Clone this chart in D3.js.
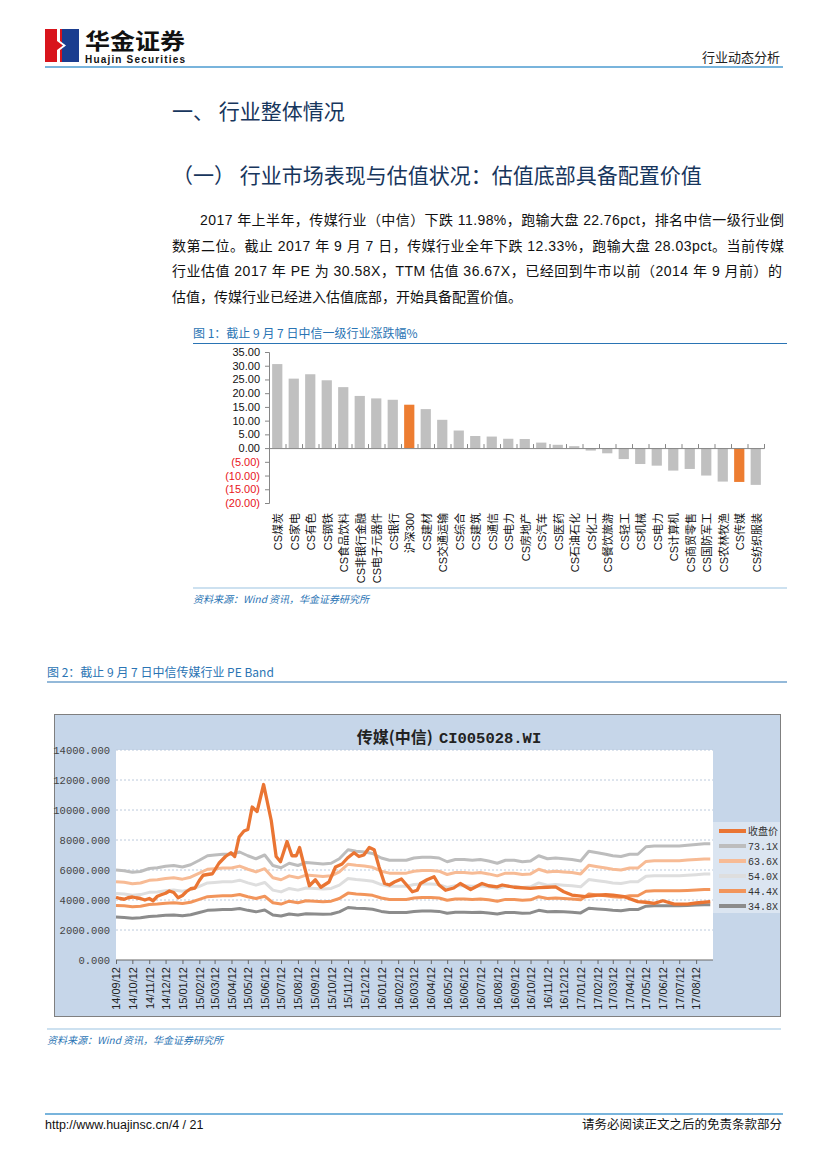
<!DOCTYPE html>
<html><head><meta charset="utf-8">
<script src="https://cdn.jsdelivr.net/npm/d3@7"></script>
<style>body{margin:0;background:#fff}svg{display:block}</style>
</head><body><svg id="page" width="827" height="1169"></svg>
<script>
// ---------------- DATA ----------------
const industries = ["CS煤炭","CS家电","CS有色","CS钢铁","CS食品饮料","CS非银行金融","CS电子元器件","CS银行","沪深300","CS建材","CS交通运输","CS综合","CS建筑","CS通信","CS电力","CS房地产","CS汽车","CS医药","CS石油石化","CS化工","CS餐饮旅游","CS轻工","CS机械","CS电力","CS计算机","CS商贸零售","CS国防军工","CS农林牧渔","CS传媒","CS纺织服装"];
const industryChanges = [30.6,25.3,26.9,24.7,22.2,19.0,18.1,17.6,15.8,14.2,10.3,6.4,4.4,4.2,3.4,3.3,2.0,1.2,0.7,-0.9,-1.9,-4.0,-5.8,-6.4,-8.2,-7.6,-10.0,-12.2,-12.33,-13.4];
const highlighted = [8, 28];
const chart1Ticks = [35,30,25,20,15,10,5,0,-5,-10,-15,-20];

const monthLabels = ["14/09/12","14/10/12","14/11/12","14/12/12","15/01/12","15/02/12","15/03/12","15/04/12","15/05/12","15/06/12","15/07/12","15/08/12","15/09/12","15/10/12","15/11/12","15/12/12","16/01/12","16/02/12","16/03/12","16/04/12","16/05/12","16/06/12","16/07/12","16/08/12","16/09/12","16/10/12","16/11/12","16/12/12","17/01/12","17/02/12","17/03/12","17/04/12","17/05/12","17/06/12","17/07/12","17/08/12"];
const chart2Ticks = [0,2000,4000,6000,8000,10000,12000,14000];

// PE band values, sampled every half month from 2014-09-12, last point 2017-09-07
const band731 = [6000,5950,5850,5900,6100,6150,6250,6300,6200,6350,6650,6950,7000,7050,7050,7200,6950,6750,7000,6300,6150,6450,6300,6500,6450,6400,6450,6750,7350,7250,7200,7100,6800,6650,6650,6650,6800,6850,6850,6800,6550,6700,6700,6650,6700,6600,6450,6650,6650,6550,6600,6950,6750,6800,6750,6700,6600,7250,7150,7050,6950,6900,7050,7050,7550,7600,7600,7600,7600,7650,7700,7750,7750];
const band636 = [5220,5180,5090,5130,5310,5350,5440,5480,5390,5520,5790,6050,6090,6130,6130,6260,6050,5870,6090,5480,5350,5610,5480,5660,5610,5570,5610,5870,6390,6310,6260,6180,5920,5790,5790,5790,5920,5960,5960,5920,5700,5830,5830,5790,5830,5740,5610,5790,5790,5700,5740,6050,5870,5920,5870,5830,5740,6310,6220,6130,6050,6000,6130,6130,6570,6610,6610,6610,6610,6660,6700,6740,6740];
const band540 = [4430,4400,4320,4360,4510,4540,4620,4660,4580,4690,4910,5140,5170,5210,5210,5320,5140,4990,5170,4660,4540,4770,4660,4800,4770,4730,4770,4990,5430,5360,5320,5250,5030,4910,4910,4910,5030,5060,5060,5030,4840,4950,4950,4910,4950,4880,4770,4910,4910,4840,4880,5140,4990,5030,4990,4950,4880,5360,5280,5210,5140,5100,5210,5210,5580,5620,5620,5620,5620,5650,5690,5730,5730];
const band444 = [3640,3610,3550,3580,3700,3730,3790,3820,3760,3850,4040,4220,4250,4280,4280,4370,4220,4100,4250,3820,3730,3920,3820,3950,3920,3880,3920,4100,4460,4400,4370,4310,4130,4040,4040,4040,4130,4160,4160,4130,3980,4070,4070,4040,4070,4010,3920,4040,4040,3980,4010,4220,4100,4130,4100,4070,4010,4400,4340,4280,4220,4190,4280,4280,4580,4610,4610,4610,4610,4640,4670,4700,4700];
const band348 = [2860,2830,2780,2810,2900,2930,2980,3000,2950,3020,3170,3310,3330,3360,3360,3430,3310,3210,3330,3000,2930,3070,3000,3090,3070,3050,3070,3210,3500,3450,3430,3380,3240,3170,3170,3170,3240,3260,3260,3240,3120,3190,3190,3170,3190,3140,3070,3170,3170,3120,3140,3310,3210,3240,3210,3190,3140,3450,3400,3360,3310,3280,3360,3360,3590,3620,3620,3620,3620,3640,3670,3690,3690];

const closePrice = [
["2014-09-12",4180],["2014-09-19",4100],["2014-09-27",4050],["2014-10-04",4150],
["2014-10-12",4200],["2014-10-19",4150],["2014-10-27",4100],["2014-11-04",4000],
["2014-11-12",4100],["2014-11-19",3950],["2014-11-27",4250],["2014-12-04",4350],
["2014-12-12",4450],["2014-12-19",4600],["2014-12-27",4500],["2015-01-04",4150],
["2015-01-12",4300],["2015-01-19",4550],["2015-01-27",4750],["2015-02-04",4800],
["2015-02-12",5300],["2015-02-19",5650],["2015-02-27",5700],["2015-03-08",5750],
["2015-03-20",6450],["2015-04-01",6900],["2015-04-11",7150],["2015-04-18",6900],
["2015-04-26",8200],["2015-05-05",8600],["2015-05-12",8700],["2015-05-20",10200],
["2015-05-29",9900],["2015-06-10",11700],["2015-06-24",9300],["2015-07-03",6900],
["2015-07-11",6550],["2015-07-23",7900],["2015-08-01",6950],["2015-08-09",6950],
["2015-08-15",7500],["2015-08-24",6200],["2015-09-02",4950],["2015-09-13",5350],
["2015-09-23",4850],["2015-10-08",5200],["2015-10-20",6200],["2015-11-01",6400],
["2015-11-11",6800],["2015-11-23",7150],["2015-12-02",6900],["2015-12-11",7000],
["2015-12-21",7500],["2015-12-30",7350],["2016-01-08",6200],["2016-01-18",5100],
["2016-01-27",5000],["2016-02-05",5200],["2016-02-18",5400],["2016-03-01",4900],
["2016-03-09",4550],["2016-03-18",4650],["2016-03-24",5100],["2016-04-05",5350],
["2016-04-18",5550],["2016-04-27",5000],["2016-05-09",4650],["2016-05-24",4800],
["2016-06-05",5100],["2016-06-24",4700],["2016-07-15",5100],["2016-07-27",4950],
["2016-08-12",4880],["2016-08-21",5000],["2016-09-12",4850],["2016-10-12",4780],
["2016-10-27",4820],["2016-11-12",4850],["2016-11-27",4880],["2016-12-12",4550],
["2016-12-27",4330],["2017-01-21",4220],["2017-02-12",4330],["2017-02-27",4350],
["2017-03-12",4330],["2017-04-02",4220],["2017-04-27",3890],["2017-05-12",3850],
["2017-05-27",3780],["2017-06-12",3950],["2017-07-03",3730],["2017-07-27",3730],
["2017-08-12",3800],["2017-09-07",3890]];

const seriesNames = ["收盘价","73.1X","63.6X","54.0X","44.4X","34.8X"];
const seriesColors = ["#ea7533","#bdbdbd","#f7bb95","#dedede","#f2955b","#8c8c8c"];

// ---------------- PAGE ----------------
const svg = d3.select("#page");
const CJK = "'Noto Sans CJK SC','Liberation Sans',sans-serif";
const SANS = "'Liberation Sans','Noto Sans CJK SC',sans-serif";
const MONO = "'Liberation Mono','Noto Sans CJK SC',monospace";
const BLUE = "#2a74b4";

// header logo
svg.append("rect").attr("x",45).attr("y",29).attr("width",17).attr("height",33).attr("fill","#d8141c");
svg.append("rect").attr("x",62).attr("y",29).attr("width",17).attr("height",33).attr("fill","#1b3d8f");
svg.append("polygon").attr("points","57,29 60,29 60,41 66,45.5 60,50 60,62 57,62 57,50 63,45.5 57,41").attr("fill","#fff");
svg.append("text").attr("x",85).attr("y",49).attr("font-family",CJK).attr("font-weight","bold").attr("font-size",22)
  .attr("textLength",100).attr("lengthAdjust","spacingAndGlyphs").attr("fill","#111").text("华金证券");
svg.append("text").attr("x",85).attr("y",63).attr("font-family",SANS).attr("font-weight","bold").attr("font-size",10)
  .attr("textLength",100).attr("lengthAdjust","spacing").attr("fill","#111").text("Huajin Securities");
svg.append("text").attr("x",780).attr("y",62).attr("text-anchor","end").attr("font-family",CJK).attr("font-size",13).attr("fill","#222").text("行业动态分析");
svg.append("line").attr("x1",45).attr("x2",783).attr("y1",67).attr("y2",67).attr("stroke","#4b9bd0").attr("stroke-width",1.6);

// headings
const HEAD = "#17365d";
svg.append("text").attr("x",172).attr("y",119).attr("font-family",CJK).attr("font-size",21).attr("fill",HEAD).text("一、 行业整体情况");
svg.append("text").attr("x",172).attr("y",183).attr("font-family",CJK).attr("font-size",21).attr("fill",HEAD).text("（一） 行业市场表现与估值状况：估值底部具备配置价值");

// paragraph
const para = [
 {t:"2017 年上半年，传媒行业（中信）下跌 11.98%，跑输大盘 22.76pct，排名中信一级行业倒", x:200, w:584},
 {t:"数第二位。截止 2017 年 9 月 7 日，传媒行业全年下跌 12.33%，跑输大盘 28.03pct。当前传媒", x:172, w:612},
 {t:"行业估值 2017 年 PE 为 30.58X，TTM 估值 36.67X，已经回到牛市以前（2014 年 9 月前）的", x:172, w:610},
 {t:"估值，传媒行业已经进入估值底部，开始具备配置价值。", x:172, w:null}
];
para.forEach((p,i)=>{
  const t = svg.append("text").attr("x",p.x).attr("y",225+i*25.5).attr("font-family",SANS).attr("font-size",14).attr("fill","#111").text(p.t);
  if (p.w) t.attr("textLength",p.w).attr("lengthAdjust","spacing");
});

// ---------------- FIGURE 1 ----------------
svg.append("text").attr("x",193).attr("y",338).attr("font-family",CJK).attr("font-size",12).attr("fill",BLUE).text("图 1：截止 9 月 7 日中信一级行业涨跌幅%");
svg.append("line").attr("x1",193).attr("x2",787).attr("y1",343.5).attr("y2",343.5).attr("stroke",BLUE).attr("stroke-width",1.2);

const x1 = d3.scaleBand().domain(d3.range(industries.length)).range([269,764]).paddingInner(0.38).paddingOuter(0.19);
const y1 = d3.scaleLinear().domain([-20,35]).range([503,352]);
const g1 = svg.append("g");
g1.selectAll("rect.bar").data(industryChanges).join("rect")
  .attr("x",(d,i)=>x1(i)).attr("width",x1.bandwidth())
  .attr("y",d=>y1(Math.max(0,d))).attr("height",d=>Math.abs(y1(d)-y1(0)))
  .attr("fill",(d,i)=>highlighted.includes(i)?"#ed7d31":"#c0c0c0");

const yAxis1 = g1.append("g").attr("transform","translate(269,0)")
  .call(d3.axisLeft(y1).tickValues(chart1Ticks).tickSize(4)
    .tickFormat(d=>d<0?`(${Math.abs(d).toFixed(2)})`:d.toFixed(2)));
yAxis1.select(".domain").attr("stroke","#868686");
yAxis1.selectAll(".tick line").attr("stroke","#868686");
yAxis1.selectAll(".tick text").attr("font-family",SANS).attr("font-size",11).attr("x",-9)
  .attr("fill",d=>d<0?"#e8141c":"#111");

const xi = d3.scaleLinear().domain([0,industries.length]).range([269,764]);
const zeroAxis = g1.append("g").attr("transform",`translate(0,${y1(0)})`)
  .call(d3.axisTop(xi).tickValues(d3.range(industries.length+1)).tickSize(4).tickFormat(""));
zeroAxis.select(".domain").attr("stroke","#868686");
zeroAxis.selectAll(".tick line").attr("stroke","#868686");

g1.selectAll("text.cat").data(industries).join("text").attr("class","cat")
  .attr("transform",(d,i)=>`translate(${x1(i)+x1.bandwidth()/2+1},513) rotate(-90)`)
  .attr("text-anchor","end").attr("dy","0.35em")
  .attr("font-family",SANS).attr("font-size",11).attr("fill","#111").text(d=>d);

svg.append("line").attr("x1",193).attr("x2",787).attr("y1",588).attr("y2",588).attr("stroke","#9cc4e2").attr("stroke-width",1.2);
svg.append("text").attr("x",193).attr("y",603).attr("font-family",CJK).attr("font-style","italic").attr("font-size",10).attr("fill",BLUE).text("资料来源：Wind 资讯，华金证券研究所");

// ---------------- FIGURE 2 ----------------
svg.append("text").attr("x",47).attr("y",677).attr("font-family",CJK).attr("font-size",12).attr("fill",BLUE).text("图 2：截止 9 月 7 日中信传媒行业 PE Band");
svg.append("line").attr("x1",47).attr("x2",787).attr("y1",682).attr("y2",682).attr("stroke",BLUE).attr("stroke-width",1.2);

svg.append("rect").attr("x",54.5).attr("y",714.5).attr("width",726).attr("height",302).attr("fill","#c6d6e9").attr("stroke","#7f7f7f");
const x2 = d3.scaleTime().domain([new Date(2014,8,12), new Date(2017,8,12)]).range([116,713]);
const y2 = d3.scaleLinear().domain([0,14000]).range([960,750]);
svg.append("rect").attr("x",116).attr("y",750).attr("width",597).attr("height",210).attr("fill","#fff");

const g2 = svg.append("g");
g2.selectAll("line.grid").data(chart2Ticks.filter(d=>d>0)).join("line")
  .attr("x1",116).attr("x2",713).attr("y1",d=>y2(d)).attr("y2",d=>y2(d))
  .attr("stroke","#bccadc").attr("stroke-dasharray","2,2");

const yAxis2 = g2.append("g").attr("transform","translate(116,0)")
  .call(d3.axisLeft(y2).tickValues(chart2Ticks).tickSize(0).tickFormat(d=>d.toFixed(3)));
yAxis2.select(".domain").remove();
yAxis2.selectAll("text").attr("font-family",MONO).attr("font-size",10.5).attr("fill","#444").attr("x",-6);

const start = new Date(2014,8,12);
const tickDates = monthLabels.map((d,i)=>d3.timeMonth.offset(start,i));
const xAxis2 = g2.append("g").attr("transform","translate(0,960)")
  .call(d3.axisBottom(x2).tickValues(tickDates).tickSize(4).tickFormat((d,i)=>monthLabels[i]));
xAxis2.select(".domain").attr("stroke","#666").attr("d","M116,0H713");
xAxis2.selectAll(".tick line").attr("stroke","#666");
xAxis2.selectAll("text").attr("transform","rotate(-90)").attr("text-anchor","end")
  .attr("x",-7).attr("y",0).attr("dy","0.35em")
  .attr("font-family",SANS).attr("font-size",11).attr("fill","#222");

const bandDates = band731.map((d,i)=> i===band731.length-1 ? new Date(2017,8,7)
   : d3.timeDay.offset(d3.timeMonth.offset(start,Math.floor(i/2)), (i%2)*15));
const line = d3.line().x(d=>x2(d[0])).y(d=>y2(d[1])).curve(d3.curveLinear);
const bands = [band731,band636,band540,band444,band348];
bands.forEach((b,k)=>{
  g2.append("path").datum(b.map((v,i)=>[bandDates[i],v]))
    .attr("d",line).attr("fill","none").attr("stroke",seriesColors[k+1])
    .attr("stroke-width",3).attr("stroke-linejoin","round");
});
const parse = d3.timeParse("%Y-%m-%d");
g2.append("path").datum(closePrice.map(d=>[parse(d[0]),d[1]]))
  .attr("d",line).attr("fill","none").attr("stroke",seriesColors[0])
  .attr("stroke-width",3.3).attr("stroke-linejoin","round");

// title
const tt = svg.append("text").attr("x",449).attr("y",743).attr("text-anchor","middle").attr("font-weight","bold").attr("fill","#222");
tt.append("tspan").attr("font-family",CJK).attr("font-size",16).text("传媒(中信)");
tt.append("tspan").attr("font-family",MONO).attr("font-size",15.5).attr("dx",6).text("CI005028.WI");

// legend
const lg = svg.append("g");
lg.append("rect").attr("x",713).attr("y",822).attr("width",67).attr("height",91).attr("fill","#dbe5f1");
const ly = d3.scalePoint().domain(seriesNames).range([831,906]);
seriesNames.forEach((n,i)=>{
  lg.append("line").attr("x1",719).attr("x2",746).attr("y1",ly(n)).attr("y2",ly(n))
    .attr("stroke",seriesColors[i]).attr("stroke-width",4);
  lg.append("text").attr("x",748).attr("y",ly(n)).attr("dy","0.35em")
    .attr("font-family",i===0?CJK:MONO).attr("font-size",10).attr("fill","#333").text(n);
});

svg.append("line").attr("x1",47).attr("x2",781).attr("y1",1029).attr("y2",1029).attr("stroke","#9cc4e2").attr("stroke-width",1.2);
svg.append("text").attr("x",47).attr("y",1044).attr("font-family",CJK).attr("font-style","italic").attr("font-size",10).attr("fill",BLUE).text("资料来源：Wind 资讯，华金证券研究所");

// footer
svg.append("line").attr("x1",45).attr("x2",783).attr("y1",1114).attr("y2",1114).attr("stroke","#4b9bd0").attr("stroke-width",1.6);
svg.append("text").attr("x",45).attr("y",1129).attr("font-family","'Liberation Sans Narrow','Liberation Sans',sans-serif").attr("font-size",12.5).attr("fill","#111").text("http://www.huajinsc.cn/4 / 21");
svg.append("text").attr("x",782).attr("y",1129).attr("text-anchor","end").attr("font-family",CJK).attr("font-size",12.5).attr("fill","#111").text("请务必阅读正文之后的免责条款部分");
</script></body></html>
